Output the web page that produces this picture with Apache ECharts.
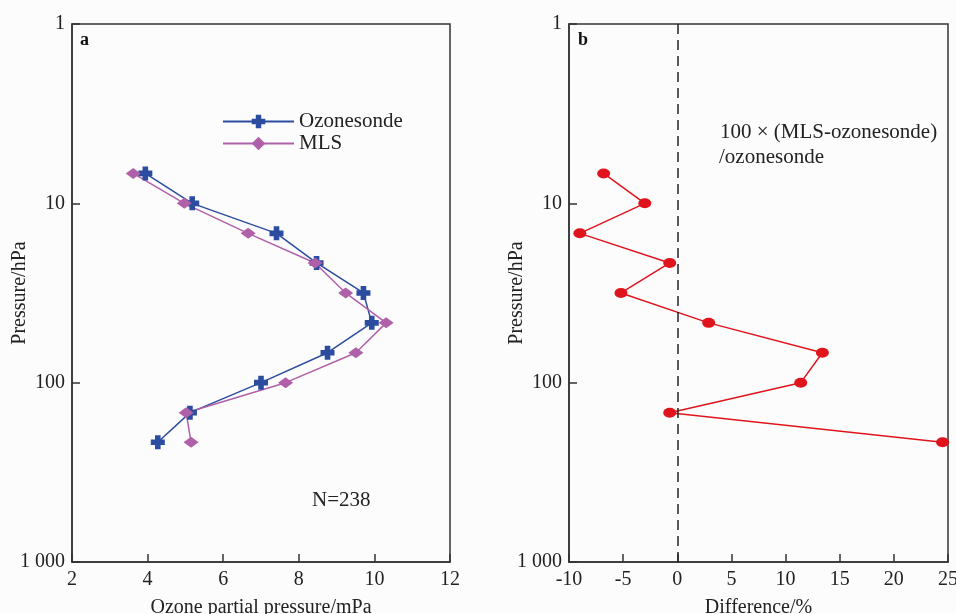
<!DOCTYPE html>
<html>
<head>
<meta charset="utf-8">
<script src="https://cdn.jsdelivr.net/npm/echarts@6/dist/echarts.min.js"></script>
<style>
    html, body { margin: 0; padding: 0; background: #fcfcfc; }
    #main { width: 956px; height: 614px; }
</style>
</head>
<body>
<div id="main"></div>
<script>
// 气压层 (hPa)
const pressure = [6.81, 10, 14.7, 21.5, 31.6, 46.4, 68.1, 100, 147, 215];
// 臭氧分压 (mPa)
const ozonesonde = [3.94, 5.18, 7.41, 8.47, 9.71, 9.93, 8.76, 7.0, 5.12, 4.27];
const mls = [3.62, 4.97, 6.66, 8.43, 9.24, 10.31, 9.51, 7.65, 5.02, 5.15];
// 相对偏差 (%)
const difference = [-6.8, -3.0, -9.0, -0.7, -5.2, 2.9, 13.4, 11.4, -0.7, 24.5];

const font = 'Liberation Serif';
const plusPath = 'path://M3,0h4v3h3v4h-3v3h-4v-3h-3v-4h3z';

function pairs(xs) {
    return xs.map((v, i) => [v, pressure[i]]);
}

function pressureLabel(v) {
    return v === 1000 ? '1 000' : String(v);
}

const axisText = { fontFamily: font, fontSize: 20, color: '#222' };

function yAxisFor(idx) {
    return {
        type: 'log',
        logBase: 10,
        gridIndex: idx,
        min: 1,
        max: 1000,
        inverse: true,
        name: 'Pressure/hPa',
        nameLocation: 'middle',
        nameGap: 42,
        nameMoveOverlap: false,
        nameTextStyle: axisText,
        axisLine: { show: true, onZero: false, lineStyle: { color: '#333', width: 1.5 } },
        axisTick: { show: true, inside: true, length: 8, lineStyle: { color: '#333', width: 1.5 } },
        axisLabel: Object.assign({ margin: 7, formatter: pressureLabel }, axisText),
        splitLine: { show: false },
        minorTick: { show: false }
    };
}

function xAxisFor(idx, min, max, interval, name) {
    return {
        type: 'value',
        gridIndex: idx,
        min: min,
        max: max,
        interval: interval,
        name: name,
        nameLocation: 'middle',
        nameGap: 36,
        nameMoveOverlap: false,
        nameTextStyle: axisText,
        axisLine: { show: true, onZero: false, lineStyle: { color: '#333', width: 1.5 } },
        axisTick: { show: true, inside: true, length: 8, lineStyle: { color: '#333', width: 1.5 } },
        axisLabel: Object.assign({ margin: 8, showMinLabel: true, showMaxLabel: true }, axisText),
        splitLine: { show: false }
    };
}

const myChart = echarts.init(document.getElementById('main'));

const gridBase = { top: 24, bottom: 52, show: true, borderColor: '#333', borderWidth: 1.5, outerBoundsMode: 'none', containLabel: false };

const option = {
    backgroundColor: '#fcfcfc',
    animation: false,
    grid: [
        Object.assign({ left: 72, right: 506 }, gridBase),
        Object.assign({ left: 569, right: 8 }, gridBase)
    ],
    xAxis: [
        xAxisFor(0, 2, 12, 2, 'Ozone partial pressure/mPa'),
        xAxisFor(1, -10, 25, 5, 'Difference/%')
    ],
    yAxis: [yAxisFor(0), yAxisFor(1)],
    legend: {
        orient: 'vertical',
        left: 222,
        top: 111,
        padding: 0,
        itemWidth: 71,
        itemHeight: 17,
        itemGap: 1,
        textStyle: { fontFamily: font, fontSize: 21, color: '#222' },
        data: ['Ozonesonde', 'MLS']
    },
    series: [
        {
            name: 'Ozonesonde',
            type: 'line',
            xAxisIndex: 0,
            yAxisIndex: 0,
            data: pairs(ozonesonde),
            symbol: plusPath,
            symbolSize: 14,
            lineStyle: { color: '#2b4c9f', width: 1.5 },
            itemStyle: { color: '#2b4c9f' }
        },
        {
            name: 'MLS',
            type: 'line',
            xAxisIndex: 0,
            yAxisIndex: 0,
            data: pairs(mls),
            symbol: 'diamond',
            symbolSize: [15, 11],
            lineStyle: { color: '#b060a8', width: 1.5 },
            itemStyle: { color: '#b060a8' }
        },
        {
            name: 'Difference',
            type: 'line',
            xAxisIndex: 1,
            yAxisIndex: 1,
            data: pairs(difference),
            symbol: 'circle',
            symbolSize: [13, 10],
            lineStyle: { color: '#e0141c', width: 1.5 },
            itemStyle: { color: '#e0141c' },
            markLine: {
                silent: true,
                symbol: 'none',
                label: { show: false },
                lineStyle: { color: '#222', type: [10, 6], width: 1.5 },
                data: [{ xAxis: 0 }]
            }
        }
    ],
    graphic: [
        { type: 'text', left: 80, top: 31, style: { text: 'a', font: 'bold 18px ' + font, fill: '#111' } },
        { type: 'text', left: 578, top: 31, style: { text: 'b', font: 'bold 18px ' + font, fill: '#111' } },
        { type: 'text', left: 312, top: 490, style: { text: 'N=238', font: '21px ' + font, fill: '#222' } },
        { type: 'text', left: 720, top: 122, style: { text: '100 × (MLS-ozonesonde)', font: '21px ' + font, fill: '#222' } },
        { type: 'text', left: 719, top: 147, style: { text: '/ozonesonde', font: '21px ' + font, fill: '#222' } }
    ]
};

myChart.setOption(option);
</script>
</body>
</html>
